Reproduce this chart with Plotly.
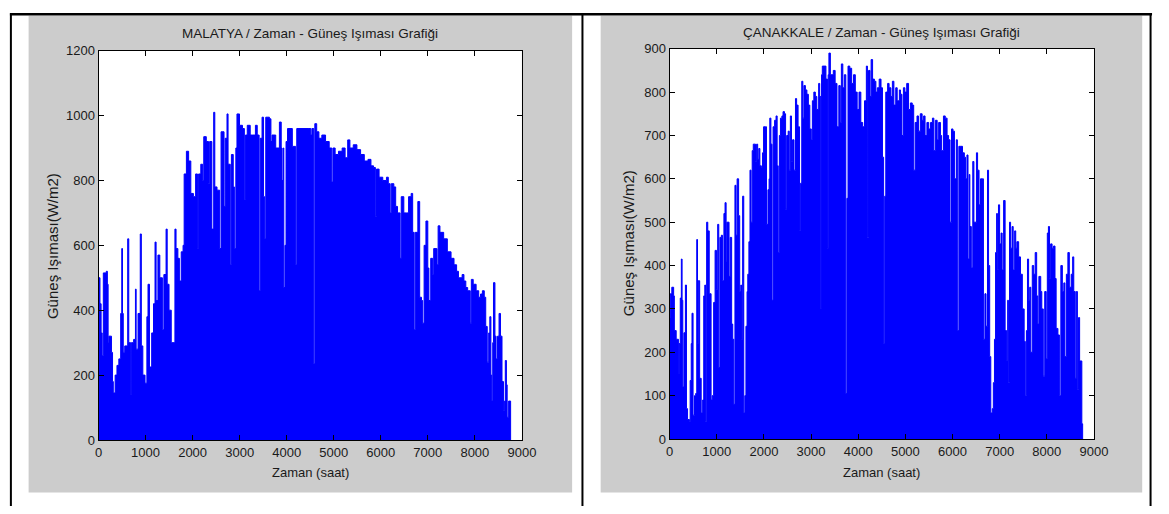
import plotly.graph_objects as go

W, H = 1169, 514

# ---------------- data (daily-peak envelope, hour -> W/m2) -------------
malatya_hours = [0, 31, 55, 78, 102, 165, 188, 204, 220, 275, 298, 314, 353, 392, 432, 471, 494, 510,
                 526, 557, 620, 643, 683, 698, 746, 785, 800, 840, 887, 910, 942, 989, 1028, 1052, 1083,
                 1130, 1169, 1201, 1224, 1263, 1303, 1358, 1389, 1436, 1460, 1499, 1546, 1624, 1648,
                 1687, 1719, 1758, 1797, 1820, 1868, 1915, 1962, 2017, 2064, 2103, 2127, 2174, 2213,
                 2237, 2291, 2338, 2362, 2409, 2448, 2472, 2519, 2574, 2605, 2668, 2692, 2731, 2754,
                 2801, 2825, 2864, 2888, 2919, 2943, 2997, 3060, 3100, 3123, 3162, 3225, 3272, 3335,
                 3374, 3414, 3437, 3476, 3508, 3531, 3555, 3633, 3665, 3688, 3767, 3845, 3884, 3900,
                 3924, 3939, 3963, 3986, 4018, 4120, 4190, 4214, 4473, 4512, 4536, 4575, 4598, 4638,
                 4685, 4747, 4826, 4904, 4959, 4983, 5030, 5101, 5179, 5242, 5297, 5344, 5415, 5493,
                 5571, 5650, 5728, 5791, 5846, 5885, 5909, 5964, 6042, 6121, 6160, 6199, 6223, 6278,
                 6317, 6356, 6411, 6435, 6490, 6552, 6591, 6646, 6678, 6709, 6733, 6788, 6827, 6866,
                 6890, 6921, 6960, 7000, 7023, 7062, 7102, 7125, 7180, 7196, 7219, 7258, 7337, 7415,
                 7494, 7557, 7612, 7651, 7729, 7768, 7808, 7847, 7902, 7925, 7965, 8027, 8082, 8121,
                 8160, 8200, 8231, 8263, 8294, 8318, 8341, 8357, 8380, 8396, 8427, 8451, 8482, 8514,
                 8545, 8577, 8608, 8632, 8647, 8671, 8687, 8718, 8760]
malatya_values = [500, 420, 330, 260, 515, 520, 480, 300, 320, 270, 180, 145, 200, 230, 250, 390, 590, 390,
                  270, 290, 620, 300, 140, 300, 310, 465, 280, 390, 635, 290, 200, 175, 380, 480, 225,
                  330, 420, 610, 430, 570, 500, 340, 510, 650, 480, 400, 300, 650, 590,
                  560, 490, 580, 600, 820, 890, 860, 760, 750, 820, 590, 820, 850, 800,
                  935, 920, 790, 920, 650, 1010, 780, 770, 590, 950, 720, 930, 1005, 850,
                  540, 880, 780, 590, 900, 1005, 970, 960, 740, 940, 970, 940, 940, 970,
                  940, 460, 930, 995, 750, 620, 995, 990, 920, 940, 900, 980, 900, 800,
                  900, 470, 600, 920, 960, 905, 540, 960, 960, 940, 960, 235, 975, 950,
                  930, 940, 920, 900, 795, 900, 880, 890, 900, 870, 925, 900, 910, 895,
                  880, 860, 865, 845, 840, 690, 835, 810, 800, 810, 790, 700, 790, 780,
                  720, 700, 560, 750, 700, 700, 750, 760, 640, 340, 640, 735, 440, 430,
                  360, 600, 675, 530, 430, 560, 510, 590, 590, 540, 660, 640, 620, 580,
                  560, 540, 520, 500, 510, 490, 470, 460, 360, 495, 480, 460, 440, 450,
                  460, 440, 350, 240, 330, 380, 200, 120, 300, 485, 320, 250, 320, 390,
                  320, 180, 90, 120, 245, 170, 70, 120, 0]

canakkale_hours = [0, 16, 47, 86, 101, 140, 187, 202, 226, 249, 265, 280, 304, 335, 358, 381, 420, 436,
                   459, 475, 498, 529, 553, 576, 592, 607, 638, 670, 701, 724, 747, 763, 786, 810, 841,
                   880, 903, 934, 965, 996, 1020, 1043, 1067, 1098, 1121, 1152, 1176, 1199, 1214, 1261,
                   1285, 1316, 1339, 1362, 1386, 1409, 1432, 1464, 1487, 1510, 1526, 1549, 1573, 1596,
                   1619, 1643, 1658, 1682, 1705, 1728, 1752, 1775, 1822, 1845, 1868, 1892, 1915, 1946,
                   1970, 1993, 2032, 2055, 2086, 2110, 2125, 2149, 2172, 2195, 2227, 2258, 2281, 2304,
                   2328, 2351, 2382, 2406, 2437, 2460, 2483, 2515, 2538, 2561, 2585, 2608, 2639, 2670,
                   2694, 2725, 2756, 2779, 2803, 2826, 2849, 2880, 2912, 2943, 2974, 3005, 3028, 3059,
                   3091, 3122, 3161, 3184, 3207, 3223, 3239, 3316, 3348, 3363, 3379, 3410, 3472, 3511,
                   3550, 3589, 3620, 3643, 3674, 3706, 3737, 3760, 3784, 3822, 3861, 3900, 3939, 3978,
                   4017, 4056, 4095, 4134, 4173, 4196, 4219, 4251, 4274, 4305, 4344, 4375, 4406, 4445,
                   4484, 4515, 4539, 4562, 4585, 4624, 4655, 4694, 4725, 4757, 4796, 4827, 4873, 4897,
                   4928, 4959, 4990, 5029, 5068, 5107, 5146, 5177, 5208, 5247, 5278, 5317, 5356, 5387,
                   5418, 5457, 5496, 5535, 5574, 5605, 5636, 5675, 5706, 5745, 5769, 5808, 5846, 5885,
                   5917, 5948, 5979, 6010, 6041, 6080, 6103, 6135, 6173, 6212, 6251, 6275, 6306, 6329,
                   6353, 6368, 6399, 6430, 6454, 6508, 6532, 6563, 6594, 6633, 6656, 6687, 6711, 6742,
                   6765, 6789, 6812, 6843, 6866, 6890, 6913, 6936, 6952, 6975, 6999, 7030, 7053, 7084,
                   7116, 7147, 7170, 7186, 7209, 7232, 7263, 7287, 7318, 7341, 7365, 7403, 7442, 7481,
                   7520, 7544, 7567, 7590, 7614, 7637, 7660, 7692, 7723, 7754, 7785, 7808, 7832, 7871,
                   7894, 7925, 7956, 7987, 8011, 8034, 8057, 8081, 8112, 8143, 8174, 8198, 8236, 8267,
                   8298, 8330, 8361, 8384, 8415, 8447, 8478, 8517, 8548, 8572, 8603, 8626, 8649, 8673,
                   8696, 8743, 8760]
canakkale_values = [280, 335, 350, 330, 250, 230, 150, 220, 325, 415, 320, 120, 245, 355, 70, 45, 40, 135,
                    220, 290, 55, 100, 105, 460, 220, 365, 140, 60, 90, 330, 355, 40, 500, 480, 335,
                    90, 100, 315, 435, 345, 495, 165, 465, 470, 365, 520, 545, 410, 500, 375,
                    465, 265, 230, 80, 585, 470, 600, 515, 340, 355, 230, 560, 60, 100,
                    260, 340, 380, 455, 620, 500, 665, 680, 640, 680, 645, 670, 630, 625,
                    660, 720, 720, 495, 575, 600, 740, 680, 320, 720, 735, 745, 630, 430,
                    700, 740, 745, 755, 750, 530, 700, 710, 620, 745, 640, 690, 620, 785,
                    770, 720, 480, 590, 825, 740, 815, 805, 795, 770, 715, 690, 780, 800,
                    790, 760, 820, 790, 300, 840, 860, 830, 440, 840, 890, 840, 850, 820,
                    720, 815, 730, 865, 810, 840, 105, 555, 860, 855, 820, 840, 800, 760,
                    800, 730, 720, 780, 860, 465, 850, 790, 875, 830, 825, 800, 810, 830,
                    810, 650, 220, 560, 800, 820, 810, 790, 825, 770, 810, 780, 805, 795,
                    700, 810, 800, 820, 760, 775, 770, 620, 730, 745, 710, 750, 735, 745,
                    700, 730, 715, 730, 740, 665, 735, 690, 730, 700, 665, 745, 740, 700,
                    690, 500, 715, 710, 600, 690, 250, 675, 675, 660, 650, 600, 655, 415,
                    610, 490, 395, 640, 500, 660, 620, 540, 600, 600, 230, 335, 260, 620,
                    400, 190, 60, 70, 130, 230, 430, 520, 390, 540, 450, 475, 390, 550,
                    250, 180, 320, 130, 500, 440, 490, 390, 480, 440, 455, 420, 380, 300,
                    225, 100, 250, 415, 320, 350, 200, 400, 380, 430, 330, 265, 375, 340,
                    300, 145, 340, 185, 475, 490, 370, 450, 440, 445, 370, 255, 240, 100,
                    400, 340, 360, 190, 380, 430, 350, 380, 420, 340, 140, 340, 115, 280,
                    180, 35, 0]

x_tick_values = [0, 1000, 2000, 3000, 4000, 5000, 6000, 7000, 8000, 9000]
malatya_y_ticks = [0, 200, 400, 600, 800, 1000, 1200]
canakkale_y_ticks = [0, 100, 200, 300, 400, 500, 600, 700, 800, 900]

malatya_title = "MALATYA / Zaman - Güneş Işıması Grafiği"
canakkale_title = "ÇANAKKALE / Zaman - Güneş Işıması Grafiği"
x_label = "Zaman (saat)"
y_label = "Güneş Işıması(W/m2)"

# ---------------- figure --------------------------------------------------------------------
BLUE = "#0000ff"
FONT = "Liberation Sans, Arial, Helvetica, sans-serif"


def px(x):
    return x / W


def py(y):
    return 1 - y / H


fig = go.Figure()
fig.add_trace(go.Scatter(x=malatya_hours, y=malatya_values, mode="lines",
                         line=dict(shape="hv", color=BLUE, width=1),
                         fill="tozeroy", fillcolor=BLUE, xaxis="x", yaxis="y",
                         hoverinfo="x+y", showlegend=False))
fig.add_trace(go.Scatter(x=canakkale_hours, y=canakkale_values, mode="lines",
                         line=dict(shape="hv", color=BLUE, width=1),
                         fill="tozeroy", fillcolor=BLUE, xaxis="x2", yaxis="y2",
                         hoverinfo="x+y", showlegend=False))

axis_common = dict(ticks="inside", ticklen=5, tickwidth=1, tickcolor="#000000",
                   showline=True, linecolor="#000000", linewidth=1, mirror="allticks",
                   showgrid=False, zeroline=False,
                   tickfont=dict(family=FONT, size=13, color="#1a1a1a"))

panels = [
    dict(ax=(96, 526), ay=(45, 446)),
    dict(ax=(676, 1107), ay=(43, 445)),
]

fig.update_layout(
    width=W, height=H, autosize=False,
    margin=dict(l=0, r=0, t=0, b=0, pad=0),
    paper_bgcolor="#ffffff", plot_bgcolor="#ffffff",
    xaxis=dict(domain=[px(96), px(526)], anchor="y", range=[0, 9000],
               tickvals=x_tick_values, **axis_common),
    yaxis=dict(domain=[py(446), py(45)], anchor="x", range=[0, 1200],
               tickvals=malatya_y_ticks, **axis_common),
    xaxis2=dict(domain=[px(676), px(1107)], anchor="y2", range=[0, 9000],
                tickvals=x_tick_values, **axis_common),
    yaxis2=dict(domain=[py(445), py(43)], anchor="x2", range=[0, 900],
                tickvals=canakkale_y_ticks, **axis_common),
)

shapes = []
# grey figure panels
for x0, x1 in [(25, 577), (606, 1156)]:
    shapes.append(dict(type="rect", xref="paper", yref="paper", layer="below",
                       x0=px(x0), x1=px(x1), y0=py(500), y1=py(9),
                       fillcolor="#cccccc", line=dict(width=0)))
# white axes backgrounds
for p in panels:
    shapes.append(dict(type="rect", xref="paper", yref="paper", layer="below",
                       x0=px(p["ax"][0]), x1=px(p["ax"][1]), y0=py(p["ay"][1]), y1=py(p["ay"][0]),
                       fillcolor="#ffffff", line=dict(width=0)))
# table borders
shapes.append(dict(type="line", xref="paper", yref="paper", x0=px(6), x1=px(1166),
                   y0=py(7.5), y1=py(7.5), line=dict(color="#000000", width=2.5)))
for xv in [7, 587.5, 1164.5]:
    shapes.append(dict(type="line", xref="paper", yref="paper", x0=px(xv), x1=px(xv),
                       y0=py(6.5), y1=0, line=dict(color="#000000", width=2)))
fig.update_layout(shapes=shapes)

ann = []
title_font = dict(family=FONT, size=13.5, color="#1a1a1a")
xlab_font = dict(family=FONT, size=13, color="#1a1a1a")
ylab_font = dict(family=FONT, size=15, color="#1a1a1a")
for title, cx, ty, ylx, yly in [(malatya_title, 311, 27, 50, 246),
                                (canakkale_title, 891, 26, 635, 243)]:
    ann.append(dict(text=title, xref="paper", yref="paper", x=px(cx), y=py(ty),
                    xanchor="center", yanchor="middle", showarrow=False, font=title_font))
    ann.append(dict(text=x_label, xref="paper", yref="paper", x=px(cx), y=py(480),
                    xanchor="center", yanchor="middle", showarrow=False, font=xlab_font))
    ann.append(dict(text=y_label, xref="paper", yref="paper", x=px(ylx), y=py(yly),
                    xanchor="center", yanchor="middle", showarrow=False, textangle=-90,
                    font=ylab_font))
fig.update_layout(annotations=ann)

fig.write_html("out.html",
               post_script="document.body.style.margin='0';document.body.style.padding='0';")
